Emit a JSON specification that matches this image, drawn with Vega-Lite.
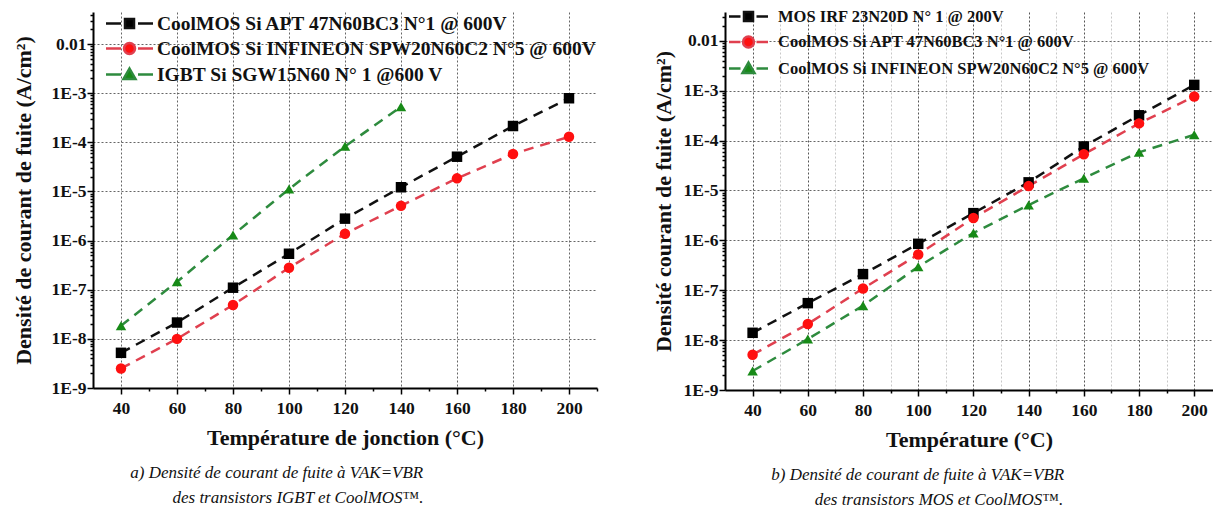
{
  "$schema": "https://vega.github.io/schema/vega-lite/v6.json",
  "padding": {"left": 12, "top": 5, "right": 0, "bottom": 0},
  "spacing": 54,
  "background": "white",
  "resolve": {
    "scale": {"color": "independent", "fill": "independent", "stroke": "independent", "shape": "independent"},
    "legend": {"color": "independent", "fill": "independent", "stroke": "independent", "shape": "independent"}
  },
  "config": {
    "view": {"stroke": null},
    "font": "Liberation Serif",
    "axis": {
      "labelFont": "Liberation Serif", "labelFontSize": 17.5, "labelFontWeight": "bold", "labelColor": "#111",
      "titleFont": "Liberation Serif", "titleFontSize": 22, "titleFontWeight": "bold", "titleColor": "#111",
      "domainColor": "#000", "domainWidth": 2, "tickColor": "#000", "tickWidth": 1.5,
      "gridColor": "#666", "gridDash": [2, 2], "gridWidth": 1, "labelOverlap": false, "labelBound": false
    },
    "title": {"font": "Liberation Serif", "fontStyle": "italic", "fontWeight": "normal", "fontSize": 17, "color": "#111", "lineHeight": 25}
  },
  "datasets": {
    "a": [
      {"T": 40, "J": 5.2e-9, "s": "CoolMOS Si APT 47N60BC3 N°1 @ 600V"},
      {"T": 60, "J": 2.15e-8, "s": "CoolMOS Si APT 47N60BC3 N°1 @ 600V"},
      {"T": 80, "J": 1.1e-7, "s": "CoolMOS Si APT 47N60BC3 N°1 @ 600V"},
      {"T": 100, "J": 5.4e-7, "s": "CoolMOS Si APT 47N60BC3 N°1 @ 600V"},
      {"T": 120, "J": 2.8e-6, "s": "CoolMOS Si APT 47N60BC3 N°1 @ 600V"},
      {"T": 140, "J": 1.22e-5, "s": "CoolMOS Si APT 47N60BC3 N°1 @ 600V"},
      {"T": 160, "J": 5.1e-5, "s": "CoolMOS Si APT 47N60BC3 N°1 @ 600V"},
      {"T": 180, "J": 2.15e-4, "s": "CoolMOS Si APT 47N60BC3 N°1 @ 600V"},
      {"T": 200, "J": 7.9e-4, "s": "CoolMOS Si APT 47N60BC3 N°1 @ 600V"},
      {"T": 40, "J": 2.5e-9, "s": "CoolMOS Si INFINEON SPW20N60C2 N°5 @ 600V"},
      {"T": 60, "J": 1.0e-8, "s": "CoolMOS Si INFINEON SPW20N60C2 N°5 @ 600V"},
      {"T": 80, "J": 4.9e-8, "s": "CoolMOS Si INFINEON SPW20N60C2 N°5 @ 600V"},
      {"T": 100, "J": 2.8e-7, "s": "CoolMOS Si INFINEON SPW20N60C2 N°5 @ 600V"},
      {"T": 120, "J": 1.38e-6, "s": "CoolMOS Si INFINEON SPW20N60C2 N°5 @ 600V"},
      {"T": 140, "J": 5.1e-6, "s": "CoolMOS Si INFINEON SPW20N60C2 N°5 @ 600V"},
      {"T": 160, "J": 1.85e-5, "s": "CoolMOS Si INFINEON SPW20N60C2 N°5 @ 600V"},
      {"T": 180, "J": 5.8e-5, "s": "CoolMOS Si INFINEON SPW20N60C2 N°5 @ 600V"},
      {"T": 200, "J": 1.3e-4, "s": "CoolMOS Si INFINEON SPW20N60C2 N°5 @ 600V"},
      {"T": 40, "J": 1.85e-8, "s": "IGBT Si SGW15N60 N° 1 @600 V"},
      {"T": 60, "J": 1.45e-7, "s": "IGBT Si SGW15N60 N° 1 @600 V"},
      {"T": 80, "J": 1.3e-6, "s": "IGBT Si SGW15N60 N° 1 @600 V"},
      {"T": 100, "J": 1.12e-5, "s": "IGBT Si SGW15N60 N° 1 @600 V"},
      {"T": 120, "J": 8.3e-5, "s": "IGBT Si SGW15N60 N° 1 @600 V"},
      {"T": 140, "J": 5.3e-4, "s": "IGBT Si SGW15N60 N° 1 @600 V"}
    ],
    "b": [
      {"T": 40, "J": 1.4e-8, "s": "MOS IRF 23N20D N° 1 @ 200V"},
      {"T": 60, "J": 5.5e-8, "s": "MOS IRF 23N20D N° 1 @ 200V"},
      {"T": 80, "J": 2.1e-7, "s": "MOS IRF 23N20D N° 1 @ 200V"},
      {"T": 100, "J": 8.5e-7, "s": "MOS IRF 23N20D N° 1 @ 200V"},
      {"T": 120, "J": 3.5e-6, "s": "MOS IRF 23N20D N° 1 @ 200V"},
      {"T": 140, "J": 1.45e-5, "s": "MOS IRF 23N20D N° 1 @ 200V"},
      {"T": 160, "J": 7.6e-5, "s": "MOS IRF 23N20D N° 1 @ 200V"},
      {"T": 180, "J": 3.2e-4, "s": "MOS IRF 23N20D N° 1 @ 200V"},
      {"T": 200, "J": 1.3e-3, "s": "MOS IRF 23N20D N° 1 @ 200V"},
      {"T": 40, "J": 5.1e-9, "s": "CoolMOS Si APT 47N60BC3 N°1 @ 600V"},
      {"T": 60, "J": 2.1e-8, "s": "CoolMOS Si APT 47N60BC3 N°1 @ 600V"},
      {"T": 80, "J": 1.08e-7, "s": "CoolMOS Si APT 47N60BC3 N°1 @ 600V"},
      {"T": 100, "J": 5.2e-7, "s": "CoolMOS Si APT 47N60BC3 N°1 @ 600V"},
      {"T": 120, "J": 2.8e-6, "s": "CoolMOS Si APT 47N60BC3 N°1 @ 600V"},
      {"T": 140, "J": 1.22e-5, "s": "CoolMOS Si APT 47N60BC3 N°1 @ 600V"},
      {"T": 160, "J": 5.3e-5, "s": "CoolMOS Si APT 47N60BC3 N°1 @ 600V"},
      {"T": 180, "J": 2.2e-4, "s": "CoolMOS Si APT 47N60BC3 N°1 @ 600V"},
      {"T": 200, "J": 7.6e-4, "s": "CoolMOS Si APT 47N60BC3 N°1 @ 600V"},
      {"T": 40, "J": 2.4e-9, "s": "CoolMOS Si INFINEON SPW20N60C2 N°5 @ 600V"},
      {"T": 60, "J": 1.05e-8, "s": "CoolMOS Si INFINEON SPW20N60C2 N°5 @ 600V"},
      {"T": 80, "J": 4.9e-8, "s": "CoolMOS Si INFINEON SPW20N60C2 N°5 @ 600V"},
      {"T": 100, "J": 2.95e-7, "s": "CoolMOS Si INFINEON SPW20N60C2 N°5 @ 600V"},
      {"T": 120, "J": 1.4e-6, "s": "CoolMOS Si INFINEON SPW20N60C2 N°5 @ 600V"},
      {"T": 140, "J": 5.1e-6, "s": "CoolMOS Si INFINEON SPW20N60C2 N°5 @ 600V"},
      {"T": 160, "J": 1.75e-5, "s": "CoolMOS Si INFINEON SPW20N60C2 N°5 @ 600V"},
      {"T": 180, "J": 5.8e-5, "s": "CoolMOS Si INFINEON SPW20N60C2 N°5 @ 600V"},
      {"T": 200, "J": 1.3e-4, "s": "CoolMOS Si INFINEON SPW20N60C2 N°5 @ 600V"}
    ]
  },
  "hconcat": [
    {
      "width": 504,
      "height": 376,
      "data": {"name": "a"},
      "title": {"text": ["a) Densité de courant de fuite à VAK=VBR\u00a0\u00a0\u00a0\u00a0\u00a0\u00a0\u00a0\u00a0\u00a0\u00a0\u200b", "des transistors IGBT et CoolMOS™."], "orient": "bottom", "anchor": "middle", "frame": "group", "dx": -47, "offset": 16},
      "encoding": {
        "x": {"field": "T", "type": "quantitative", "scale": {"domain": [30, 210], "nice": false, "zero": false},
          "axis": {"title": "Température de jonction (°C)", "values": [40, 50, 60, 70, 80, 90, 100, 110, 120, 130, 140, 150, 160, 170, 180, 190, 200, 210],
            "labelExpr": "datum.value % 20 == 0 && datum.value <= 200 ? datum.label : ''",
            "tickSize": {"condition": {"test": "datum.value % 20 == 0", "value": 6}, "value": 3},
            "gridOpacity": {"condition": {"test": "datum.value % 20 == 0 && datum.value <= 200", "value": 1}, "value": 0},
            "labelPadding": 5, "titlePadding": 11}},
        "y": {"field": "J", "type": "quantitative", "scale": {"type": "log", "domain": [1e-9, 0.045], "nice": false},
          "axis": {"title": "Densité de courant de fuite (A/cm²)",
            "values": [1e-9, 2e-9, 3e-9, 4e-9, 5e-9, 6e-9, 7e-9, 8e-9, 9e-9, 1e-8, 2e-8, 3e-8, 4e-8, 5e-8, 6e-8, 7e-8, 8e-8, 9e-8, 1e-7, 2e-7, 3e-7, 4e-7, 5e-7, 6e-7, 7e-7, 8e-7, 9e-7, 1e-6, 2e-6, 3e-6, 4e-6, 5e-6, 6e-6, 7e-6, 8e-6, 9e-6, 1e-5, 2e-5, 3e-5, 4e-5, 5e-5, 6e-5, 7e-5, 8e-5, 9e-5, 1e-4, 2e-4, 3e-4, 4e-4, 5e-4, 6e-4, 7e-4, 8e-4, 9e-4, 1e-3, 2e-3, 3e-3, 4e-3, 5e-3, 6e-3, 7e-3, 8e-3, 9e-3, 0.01, 0.02, 0.03, 0.04],
            "labelExpr": "abs(log(datum.value)/LN10 - round(log(datum.value)/LN10)) < 0.01 ? (datum.value > 0.005 ? '0.01' : '1E' + round(log(datum.value)/LN10)) : ''",
            "tickSize": {"condition": {"test": "abs(log(datum.value)/LN10 - round(log(datum.value)/LN10)) < 0.01", "value": 6}, "value": 3},
            "gridOpacity": {"condition": {"test": "abs(log(datum.value)/LN10 - round(log(datum.value)/LN10)) < 0.01", "value": 1}, "value": 0},
            "labelPadding": 1, "titlePadding": 16}}
      },
      "layer": [
        {
          "mark": {"type": "line", "strokeDash": [10, 7], "strokeWidth": 2.5},
          "encoding": {"color": {"field": "s", "type": "nominal", "legend": null,
            "scale": {"domain": ["CoolMOS Si APT 47N60BC3 N°1 @ 600V", "CoolMOS Si INFINEON SPW20N60C2 N°5 @ 600V", "IGBT Si SGW15N60 N° 1 @600 V"], "range": ["#111111", "#e0404f", "#2e8b3e"]}}}
        },
        {
          "mark": {"type": "point", "filled": true, "size": 110, "opacity": 1},
          "encoding": {
            "color": {"field": "s", "type": "nominal", "legend": null,
              "scale": {"domain": ["CoolMOS Si APT 47N60BC3 N°1 @ 600V", "CoolMOS Si INFINEON SPW20N60C2 N°5 @ 600V", "IGBT Si SGW15N60 N° 1 @600 V"], "range": ["#000000", "#ff1010", "#178a17"]}},
            "shape": {"field": "s", "type": "nominal", "legend": null,
              "scale": {"domain": ["CoolMOS Si APT 47N60BC3 N°1 @ 600V", "CoolMOS Si INFINEON SPW20N60C2 N°5 @ 600V", "IGBT Si SGW15N60 N° 1 @600 V"], "range": ["square", "circle", "triangle-up"]}}
          }
        },
        {
          "transform": [{"filter": "false"}],
          "mark": {"type": "point", "filled": true, "size": 400, "strokeWidth": 2.5},
          "encoding": {
            "fill": {"field": "s", "type": "nominal",
              "scale": {"domain": ["CoolMOS Si APT 47N60BC3 N°1 @ 600V", "CoolMOS Si INFINEON SPW20N60C2 N°5 @ 600V", "IGBT Si SGW15N60 N° 1 @600 V"], "range": ["#000000", "#ff1010", "#178a17"]},
              "legend": {"title": null, "orient": "none", "legendX": 25, "legendY": 0, "labelFont": "Liberation Serif", "labelFontSize": 19.5, "labelFontWeight": "bold", "labelColor": "#111", "labelLimit": 600, "symbolSize": 400, "symbolStrokeWidth": 2.5, "labelOffset": 16, "rowPadding": 4, "padding": 0, "symbolOpacity": 1}},
            "stroke": {"field": "s", "type": "nominal",
              "scale": {"domain": ["CoolMOS Si APT 47N60BC3 N°1 @ 600V", "CoolMOS Si INFINEON SPW20N60C2 N°5 @ 600V", "IGBT Si SGW15N60 N° 1 @600 V"], "range": ["#111111", "#e0404f", "#2e8b3e"]},
              "legend": {"title": null, "orient": "none", "legendX": 25, "legendY": 0, "labelFont": "Liberation Serif", "labelFontSize": 19.5, "labelFontWeight": "bold", "labelColor": "#111", "labelLimit": 600, "symbolSize": 400, "symbolStrokeWidth": 2.5, "labelOffset": 16, "rowPadding": 4, "padding": 0, "symbolOpacity": 1}},
            "shape": {"field": "s", "type": "nominal",
              "scale": {"domain": ["CoolMOS Si APT 47N60BC3 N°1 @ 600V", "CoolMOS Si INFINEON SPW20N60C2 N°5 @ 600V", "IGBT Si SGW15N60 N° 1 @600 V"],
                "range": ["M-2.35,0H-0.85M0.85,0H2.35M-0.45,-0.45H0.45V0.45H-0.45Z", "M-2.35,0H-0.85M0.85,0H2.35M0.55,0A0.55,0.55 0 1 1 -0.55,0A0.55,0.55 0 1 1 0.55,0Z", "M-2.35,0H-0.85M0.85,0H2.35M0,-0.6L0.6,0.45L-0.6,0.45Z"]},
              "legend": {"title": null, "orient": "none", "legendX": 25, "legendY": 0, "labelFont": "Liberation Serif", "labelFontSize": 19.5, "labelFontWeight": "bold", "labelColor": "#111", "labelLimit": 600, "symbolSize": 400, "symbolStrokeWidth": 2.5, "labelOffset": 16, "rowPadding": 4, "padding": 0, "symbolOpacity": 1}}
          }
        }
      ],
      "resolve": {"scale": {"color": "independent", "shape": "independent", "fill": "independent", "stroke": "independent"}}
    },
    {
      "width": 488,
      "height": 378,
      "data": {"name": "b"},
      "title": {"text": ["b) Densité de courant de fuite à VAK=VBR\u00a0\u00a0\u00a0\u00a0\u00a0\u00a0\u00a0\u00a0\u00a0\u00a0\u200b", "des transistors MOS et CoolMOS™."], "orient": "bottom", "anchor": "middle", "frame": "group", "dx": -30, "offset": 16},
      "encoding": {
        "x": {"field": "T", "type": "quantitative", "scale": {"domain": [30, 206.8], "nice": false, "zero": false},
          "axis": {"title": "Température (°C)", "values": [40, 50, 60, 70, 80, 90, 100, 110, 120, 130, 140, 150, 160, 170, 180, 190, 200],
            "labelExpr": "datum.value % 20 == 0 ? datum.label : ''",
            "tickSize": {"condition": {"test": "datum.value % 20 == 0", "value": 6}, "value": 3},
            "gridColor": {"condition": {"test": "datum.value % 20 == 0", "value": "#555"}, "value": "#c8c8c8"},
            "labelPadding": 5, "titlePadding": 11}},
        "y": {"field": "J", "type": "quantitative", "scale": {"type": "log", "domain": [1e-9, 0.0376], "nice": false},
          "axis": {"title": "Densité courant de fuite (A/cm²)",
            "values": [1e-9, 2e-9, 3e-9, 4e-9, 5e-9, 6e-9, 7e-9, 8e-9, 9e-9, 1e-8, 2e-8, 3e-8, 4e-8, 5e-8, 6e-8, 7e-8, 8e-8, 9e-8, 1e-7, 2e-7, 3e-7, 4e-7, 5e-7, 6e-7, 7e-7, 8e-7, 9e-7, 1e-6, 2e-6, 3e-6, 4e-6, 5e-6, 6e-6, 7e-6, 8e-6, 9e-6, 1e-5, 2e-5, 3e-5, 4e-5, 5e-5, 6e-5, 7e-5, 8e-5, 9e-5, 1e-4, 2e-4, 3e-4, 4e-4, 5e-4, 6e-4, 7e-4, 8e-4, 9e-4, 1e-3, 2e-3, 3e-3, 4e-3, 5e-3, 6e-3, 7e-3, 8e-3, 9e-3, 0.01, 0.02, 0.03],
            "labelExpr": "abs(log(datum.value)/LN10 - round(log(datum.value)/LN10)) < 0.01 ? (datum.value > 0.005 ? '0.01' : '1E' + round(log(datum.value)/LN10)) : ''",
            "tickSize": {"condition": {"test": "abs(log(datum.value)/LN10 - round(log(datum.value)/LN10)) < 0.01", "value": 6}, "value": 3},
            "gridOpacity": {"condition": {"test": "abs(log(datum.value)/LN10 - round(log(datum.value)/LN10)) < 0.01", "value": 1}, "value": 0},
            "labelPadding": 1, "titlePadding": 8}}
      },
      "layer": [
        {
          "mark": {"type": "line", "strokeDash": [10, 7], "strokeWidth": 2.5},
          "encoding": {"color": {"field": "s", "type": "nominal", "legend": null,
            "scale": {"domain": ["MOS IRF 23N20D N° 1 @ 200V", "CoolMOS Si APT 47N60BC3 N°1 @ 600V", "CoolMOS Si INFINEON SPW20N60C2 N°5 @ 600V"], "range": ["#111111", "#e0404f", "#2e8b3e"]}}}
        },
        {
          "mark": {"type": "point", "filled": true, "size": 110, "opacity": 1},
          "encoding": {
            "color": {"field": "s", "type": "nominal", "legend": null,
              "scale": {"domain": ["MOS IRF 23N20D N° 1 @ 200V", "CoolMOS Si APT 47N60BC3 N°1 @ 600V", "CoolMOS Si INFINEON SPW20N60C2 N°5 @ 600V"], "range": ["#000000", "#ff1010", "#178a17"]}},
            "shape": {"field": "s", "type": "nominal", "legend": null,
              "scale": {"domain": ["MOS IRF 23N20D N° 1 @ 200V", "CoolMOS Si APT 47N60BC3 N°1 @ 600V", "CoolMOS Si INFINEON SPW20N60C2 N°5 @ 600V"], "range": ["square", "circle", "triangle-up"]}}
          }
        },
        {
          "transform": [{"filter": "false"}],
          "mark": {"type": "point", "filled": true, "size": 400, "strokeWidth": 2.5},
          "encoding": {
            "fill": {"field": "s", "type": "nominal",
              "scale": {"domain": ["MOS IRF 23N20D N° 1 @ 200V", "CoolMOS Si APT 47N60BC3 N°1 @ 600V", "CoolMOS Si INFINEON SPW20N60C2 N°5 @ 600V"], "range": ["#000000", "#ff1010", "#178a17"]},
              "legend": {"title": null, "orient": "none", "legendX": 12, "legendY": -7, "labelFont": "Liberation Serif", "labelFontSize": 16.5, "labelFontWeight": "bold", "labelColor": "#111", "labelLimit": 600, "symbolSize": 400, "symbolStrokeWidth": 2.5, "labelOffset": 18, "rowPadding": 4.5, "padding": 0, "symbolOpacity": 1}},
            "stroke": {"field": "s", "type": "nominal",
              "scale": {"domain": ["MOS IRF 23N20D N° 1 @ 200V", "CoolMOS Si APT 47N60BC3 N°1 @ 600V", "CoolMOS Si INFINEON SPW20N60C2 N°5 @ 600V"], "range": ["#111111", "#e0404f", "#2e8b3e"]},
              "legend": {"title": null, "orient": "none", "legendX": 12, "legendY": -7, "labelFont": "Liberation Serif", "labelFontSize": 16.5, "labelFontWeight": "bold", "labelColor": "#111", "labelLimit": 600, "symbolSize": 400, "symbolStrokeWidth": 2.5, "labelOffset": 18, "rowPadding": 4.5, "padding": 0, "symbolOpacity": 1}},
            "shape": {"field": "s", "type": "nominal",
              "scale": {"domain": ["MOS IRF 23N20D N° 1 @ 200V", "CoolMOS Si APT 47N60BC3 N°1 @ 600V", "CoolMOS Si INFINEON SPW20N60C2 N°5 @ 600V"],
                "range": ["M-1.95,0H-0.8M0.8,0H1.95M-0.45,-0.45H0.45V0.45H-0.45Z", "M-1.95,0H-0.8M0.8,0H1.95M0.55,0A0.55,0.55 0 1 1 -0.55,0A0.55,0.55 0 1 1 0.55,0Z", "M-1.95,0H-0.8M0.8,0H1.95M0,-0.6L0.6,0.45L-0.6,0.45Z"]},
              "legend": {"title": null, "orient": "none", "legendX": 12, "legendY": -7, "labelFont": "Liberation Serif", "labelFontSize": 16.5, "labelFontWeight": "bold", "labelColor": "#111", "labelLimit": 600, "symbolSize": 400, "symbolStrokeWidth": 2.5, "labelOffset": 18, "rowPadding": 4.5, "padding": 0, "symbolOpacity": 1}}
          }
        }
      ],
      "resolve": {"scale": {"color": "independent", "shape": "independent", "fill": "independent", "stroke": "independent"}}
    }
  ]
}
